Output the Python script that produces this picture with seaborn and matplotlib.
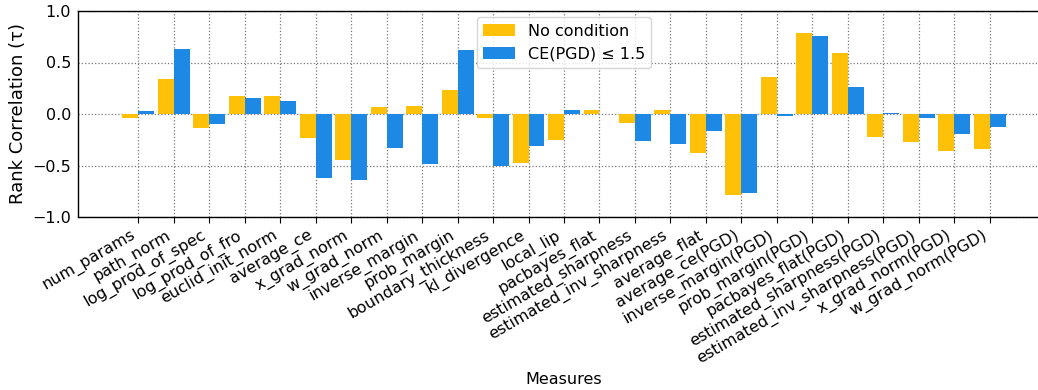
import matplotlib
matplotlib.use("Agg")
import matplotlib.pyplot as plt
import pandas as pd
import seaborn as sns

measures = [
    "num_params", "path_norm", "log_prod_of_spec", "log_prod_of_fro",
    "euclid_init_norm", "average_ce", "x_grad_norm", "w_grad_norm",
    "inverse_margin", "prob_margin", "boundary_thickness", "kl_divergence",
    "local_lip", "pacbayes_flat", "estimated_sharpness",
    "estimated_inv_sharpness", "average_flat", "average_ce(PGD)",
    "inverse_margin(PGD)", "prob_margin(PGD)", "pacbayes_flat(PGD)",
    "estimated_sharpness(PGD)", "estimated_inv_sharpness(PGD)",
    "x_grad_norm(PGD)", "w_grad_norm(PGD)",
]
no_condition = [
    -0.035, 0.343, -0.139, 0.178, 0.178, -0.236, -0.443, 0.071,
    0.081, 0.236, -0.036, -0.472, -0.249, 0.042, -0.084,
    0.042, -0.375, -0.790, 0.362, 0.790, 0.595,
    -0.227, -0.269, -0.356, -0.337,
]
ce_pgd_cond = [
    0.032, 0.634, -0.094, 0.159, 0.129, -0.625, -0.638, -0.333,
    -0.482, 0.625, -0.508, -0.307, 0.042, 0.004, -0.259,
    -0.288, -0.162, -0.764, -0.016, 0.761, 0.265,
    0.013, -0.036, -0.191, -0.123,
]
series_names = ["No condition", "CE(PGD) ≤ 1.5"]
colors = ["#FFC107", "#1E88E5"]
y_ticks = [-1.0, -0.5, 0.0, 0.5, 1.0]

df = pd.DataFrame({
    "Measures": measures * 2,
    "tau": no_condition + ce_pgd_cond,
    "cond": [series_names[0]] * len(measures) + [series_names[1]] * len(measures),
})

fig = plt.figure(figsize=(10.38, 3.9), dpi=100)
ax = fig.add_axes([78 / 1038, 1 - 217 / 390, 972 / 1038, 206 / 390])

sns.barplot(data=df, x="Measures", y="tau", hue="cond", order=measures,
            hue_order=series_names, palette=colors, width=0.9,
            saturation=1, ax=ax, zorder=3)

# matplotlib's default 5% margin around the bars
ax.set_xlim(-1.695, len(measures) - 1 + 1.695)
ax.set_ylim(-1.0, 1.0)
ax.set_yticks(y_ticks)
ax.set_yticklabels([f"{v:.1f}".replace("-", "−") for v in y_ticks], fontsize=11.5)
ax.set_xticks(range(len(measures)))
ax.set_xticklabels(measures, rotation=30, ha="right", fontsize=11.5)
ax.tick_params(axis="y", length=0, pad=5)
ax.tick_params(axis="x", length=4)

ax.grid(True, which="major", axis="both", linestyle=":", color="#777777",
        linewidth=0.9, zorder=0)
ax.set_axisbelow(True)
for side in ["left", "top", "bottom"]:
    ax.spines[side].set_color("black")
    ax.spines[side].set_linewidth(1.0)
ax.spines["right"].set_visible(False)

ax.set_xlabel("Measures", fontsize=11.5)
ax.set_ylabel("Rank Correlation (τ)", fontsize=13)

ax.legend(title=None, loc="upper left", bbox_to_anchor=(0.41, 0.97),
          borderaxespad=0, fontsize=11.5, framealpha=0.8)

fig.savefig("out.png", dpi=100)
